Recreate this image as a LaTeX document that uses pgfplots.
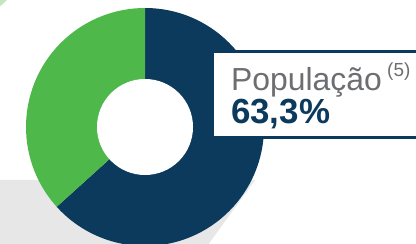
\documentclass[border=0pt]{standalone}
\usepackage{pgfplots}
\pgfplotsset{compat=1.18}
\usepackage{pgfplotstable}
\usepackage{fontspec}
\setmainfont{Liberation Sans}
\definecolor{navy}{HTML}{0B3A5C}
\definecolor{grn}{HTML}{4EB84B}
\definecolor{lgrn}{HTML}{C4E6BF}
\definecolor{bggray}{HTML}{E8E7E8}
\definecolor{txtgray}{HTML}{6D6E71}
\pgfplotstableread{
label value
Populacao 63.3
Outros 36.7
}\shares
\begin{document}
\begin{tikzpicture}[x=1bp,y=1bp]
\path[use as bounding box] (0,0) rectangle (416,244);
\pgfplotstablegetelem{0}{value}\of\shares
\pgfmathsetmacro\angA{90-3.6*\pgfplotsretval}
\begin{scope}
\clip (0,0) rectangle (416,244);
\fill[lgrn] (-40,289) circle (65);
\fill[bggray] (0,64) -- (255,64) -- (205,-5) -- (0,-5) -- cycle;
\begin{axis}[at={(0,0)}, anchor=south west, scale only axis,
  width=416bp, height=244bp, xmin=0, xmax=416, ymin=0, ymax=244, hide axis]
\fill[navy] (axis cs:145,117) -- ++(90:119bp) arc[start angle=90, end angle=\angA, radius=119bp] -- cycle;
\fill[grn] (axis cs:145,117) -- ++(\angA:119bp) arc[start angle=\angA, end angle=-270, radius=119bp] -- cycle;
\fill[white] (axis cs:145,117) circle[radius=48bp];
\end{axis}
\draw[navy, line width=3bp, fill=white] (212.5,106) rectangle (425,192.5);
\node[anchor=base west, inner sep=0, text=txtgray, font=\fontsize{32}{32}\selectfont] at (231,154) {População};
\node[anchor=base west, inner sep=0, text=txtgray, font=\fontsize{19}{19}\selectfont] at (387,168) {(5)};
\node[anchor=base west, inner sep=0, text=navy, font=\fontsize{35}{35}\selectfont\bfseries] at (231,121) {63,3\%};
\end{scope}
\end{tikzpicture}
\end{document}
